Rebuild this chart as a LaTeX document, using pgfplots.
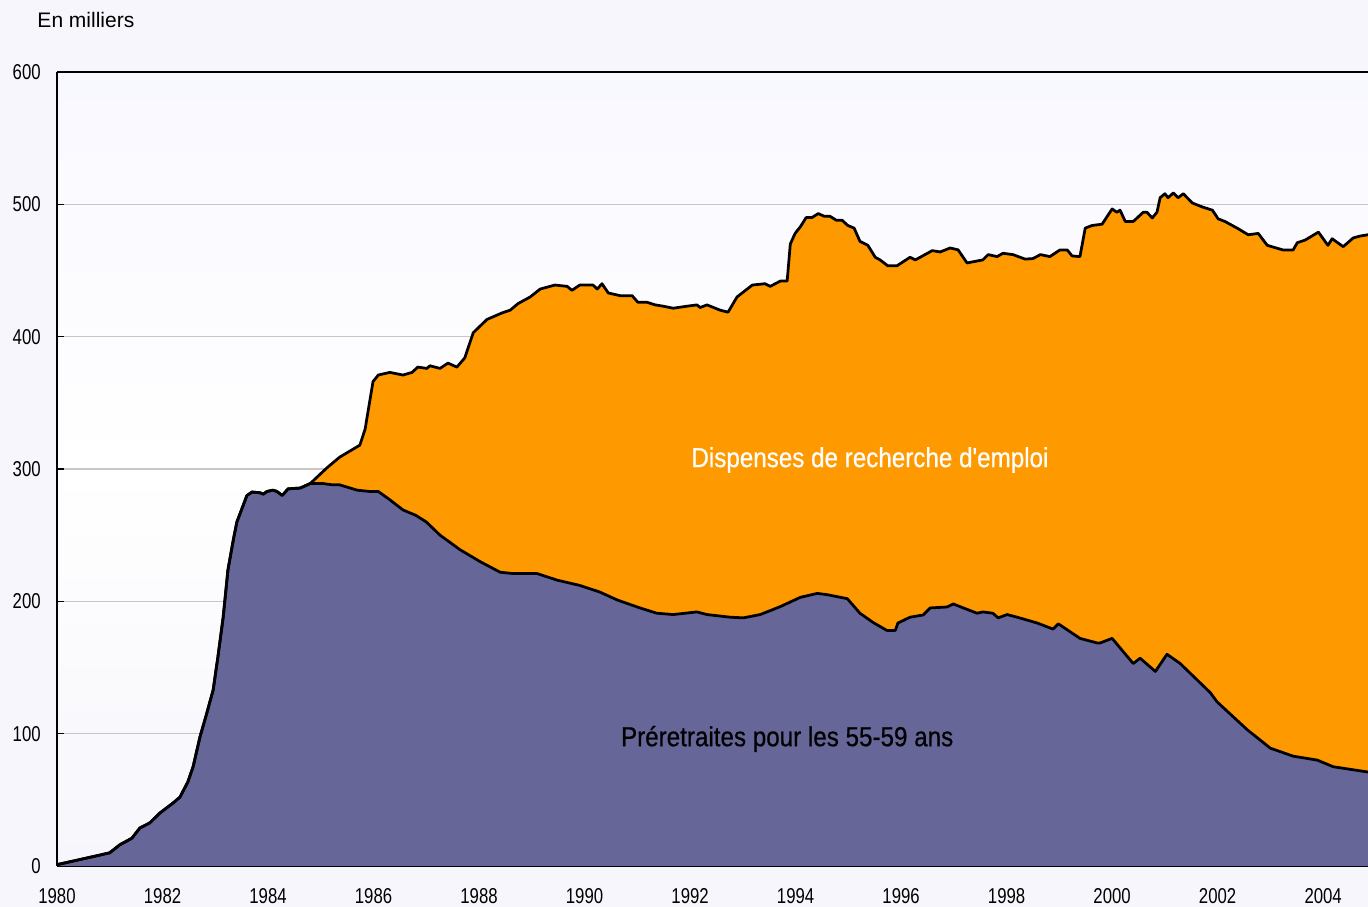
\documentclass[border=0pt]{standalone}
\usepackage{fontspec}
\setmainfont{Liberation Sans}
\newfontfamily\ticknarrow{Liberation Sans}[FakeStretch=0.78]
\newfontfamily\labfont{Liberation Sans}[FakeStretch=0.88,FakeBold=0.6]
\usepackage{pgfplots}
\usepackage{pgfplotstable}
\pgfplotsset{compat=1.18}
\definecolor{orangeC}{RGB}{255,153,0}
\definecolor{purpleC}{RGB}{102,102,153}
\definecolor{bgout}{RGB}{246,246,252}
\definecolor{bgtop}{RGB}{248,248,255}
\pgfplotsset{
  layers/mylayers/.define layer set={axis background,axis grid,main,axis ticks,axis lines,axis tick labels,axis descriptions,axis foreground}{},
}
\pgfplotstableread{
x y
1980.00 1
1980.82 8.3
1981.00 10
1981.19 16
1981.42 21
1981.57 28.7
1981.76 32.6
1981.95 40
1982.20 47.6
1982.33 52
1982.48 63.5
1982.58 75
1982.71 97.5
1982.84 115.6
1982.96 133
1983.05 158
1983.15 188
1983.24 223.7
1983.34 246
1983.41 260
1983.51 270.5
1983.60 280
1983.70 282.6
1983.85 282
1983.91 281
1983.98 283
1984.09 284
1984.17 283
1984.27 280
1984.38 285
1984.61 285.6
1984.80 289
1985.04 289
1985.23 288
1985.36 288
1985.69 284
1985.93 283
1986.09 283
1986.30 277
1986.56 269
1986.80 265
1987.00 260
1987.26 250
1987.64 239
1988.02 230
1988.40 222
1988.64 221
1989.10 221
1989.48 216
1989.91 212
1990.29 207
1990.62 201
1991.05 195
1991.37 191
1991.68 190
1992.13 192
1992.32 190
1992.76 188
1993.01 187.5
1993.33 190
1993.71 196
1994.09 203
1994.41 206
1994.60 205
1994.98 202
1995.22 191
1995.47 184
1995.73 178
1995.89 178
1995.94 183.6
1996.17 188
1996.42 189.7
1996.55 195
1996.87 195.7
1996.99 198
1997.18 195
1997.44 191
1997.55 192
1997.74 191
1997.84 187.5
1998.01 190
1998.20 188
1998.58 183.6
1998.88 179
1998.98 183
1999.39 172
1999.72 168.5
1999.77 168.5
2000.00 172
2000.21 162
2000.40 153
2000.53 157
2000.82 147
2001.04 160
2001.29 153
2001.86 131
2001.99 124
2002.56 103
2003.00 89
2003.43 83
2003.89 80
2004.19 75
2004.85 71
}\preretab
\pgfplotstableread{
x y
1980.00 1
1980.82 8.3
1981.00 10
1981.19 16
1981.42 21
1981.57 28.7
1981.76 32.6
1981.95 40
1982.20 47.6
1982.33 52
1982.48 63.5
1982.58 75
1982.71 97.5
1982.84 115.6
1982.96 133
1983.05 158
1983.15 188
1983.24 223.7
1983.34 246
1983.41 260
1983.51 270.5
1983.60 280
1983.70 282.6
1983.85 282
1983.91 281
1983.98 283
1984.09 284
1984.17 283
1984.27 280
1984.38 285
1984.61 285.6
1984.80 289
1985.12 301
1985.36 309
1985.74 318
1985.84 330
1985.99 366
1986.09 371
1986.31 373
1986.56 371
1986.73 373
1986.84 377
1987.01 376
1987.07 378
1987.26 376
1987.41 380
1987.58 377
1987.73 384
1987.89 403
1988.15 413
1988.44 418
1988.59 420
1988.74 425
1988.97 430
1989.16 436
1989.44 439
1989.67 438
1989.76 435
1989.91 439
1990.16 439
1990.24 436
1990.33 440
1990.45 433
1990.67 431
1990.90 431
1991.01 426
1991.18 426
1991.34 424
1991.49 423
1991.68 421.5
1991.94 423
1992.13 424
1992.19 422
1992.32 424
1992.57 420
1992.72 418.5
1992.89 430
1993.18 439
1993.42 440
1993.52 438
1993.71 442
1993.84 442
1993.90 470
1993.99 478
1994.09 483
1994.20 490
1994.31 490
1994.43 493
1994.54 491
1994.65 491
1994.77 488
1994.88 488
1994.99 484
1995.11 482
1995.22 472
1995.37 469
1995.51 460
1995.60 458
1995.75 453.5
1995.92 453.5
1996.17 460
1996.27 458
1996.59 465
1996.74 464
1996.93 467
1997.08 465.6
1997.25 455.7
1997.55 458
1997.65 462
1997.82 460.5
1997.93 463
1998.12 462
1998.35 458.6
1998.50 459
1998.64 462
1998.82 460.5
1999.01 465.5
1999.15 465.5
1999.24 461
1999.39 460.5
1999.49 482
1999.62 484
1999.81 485
2000.00 496.5
2000.09 494
2000.15 495.6
2000.25 487
2000.40 487
2000.59 494
2000.66 494
2000.76 489.7
2000.85 494
2000.91 505
2001.00 508
2001.06 505
2001.16 508.6
2001.25 505
2001.35 508
2001.52 501
2001.71 498
2001.90 495.6
2002.01 489
2002.14 487
2002.37 482
2002.58 477
2002.77 478
2002.94 469
2003.24 465.5
2003.43 465.5
2003.51 471
2003.66 473
2003.91 479
2004.09 469
2004.17 474
2004.38 468
2004.57 474.6
2004.70 476
2004.85 477
}\totaltab
\begin{document}
\begin{tikzpicture}
\fill[bgout] (-22.8pt,-16.4pt) rectangle (524.4pt,346.4pt);
\begin{axis}[
  set layers=mylayers,
  scale only axis,
  width=524.4pt, height=317.6pt,
  xmin=1980, xmax=2004.85,
  ymin=0, ymax=600,
  axis x line*=bottom, axis y line*=left,
  axis line style={-, black, line width=1pt},
  axis background/.style={top color=bgtop, bottom color=bgout, middle color=white},
  xtick={1980,1982,...,2004},
  minor xtick={1981,1983,...,2003},
  ytick={0,100,...,600},
  tick align=inside,
  major tick length=2.8pt, minor tick length=2.8pt,
  tick style={black, line width=0.6pt},
  ymajorgrids=true,
  major grid style={color=black!22, line width=0.5pt},
  minor x tick style={black, line width=0.6pt},
  /pgf/number format/assume math mode=true,
  /pgf/number format/set thousands separator={},
  ticklabel style={font=\ticknarrow\fontsize{8.6}{10}\selectfont, text=black},
  xticklabel style={yshift=-5.5pt},
  yticklabel style={xshift=-3pt},
  clip=false,
]
\addplot[fill=orangeC, draw=none] table[x=x,y=y] {\totaltab} \closedcycle;
\addplot[fill=purpleC, draw=none] table[x=x,y=y] {\preretab} \closedcycle;
\addplot[black, line width=1.1pt, line join=round, mark=none] table[x=x,y=y] {\totaltab};
\addplot[black, line width=1.1pt, line join=round, mark=none] table[x=x,y=y] {\preretab};
\draw[black, line width=0.8pt] (rel axis cs:0,1) -- (rel axis cs:1,1);
\node[text=white, font=\labfont\fontsize{11}{12}\selectfont] at (axis cs:1995.41,306.8) {Dispenses de recherche d'emploi};
\node[text=black, font=\labfont\fontsize{11}{12}\selectfont] at (axis cs:1993.84,96) {Préretraites pour les 55-59 ans};
\end{axis}
\node[anchor=west, inner sep=0pt, font=\fontsize{8.4}{10}\selectfont] at (-8pt,338.4pt) {En milliers};
\pgfresetboundingbox
\path[use as bounding box] (-22.8pt,-16.4pt) rectangle (524.4pt,346.4pt);
\end{tikzpicture}
\end{document}
